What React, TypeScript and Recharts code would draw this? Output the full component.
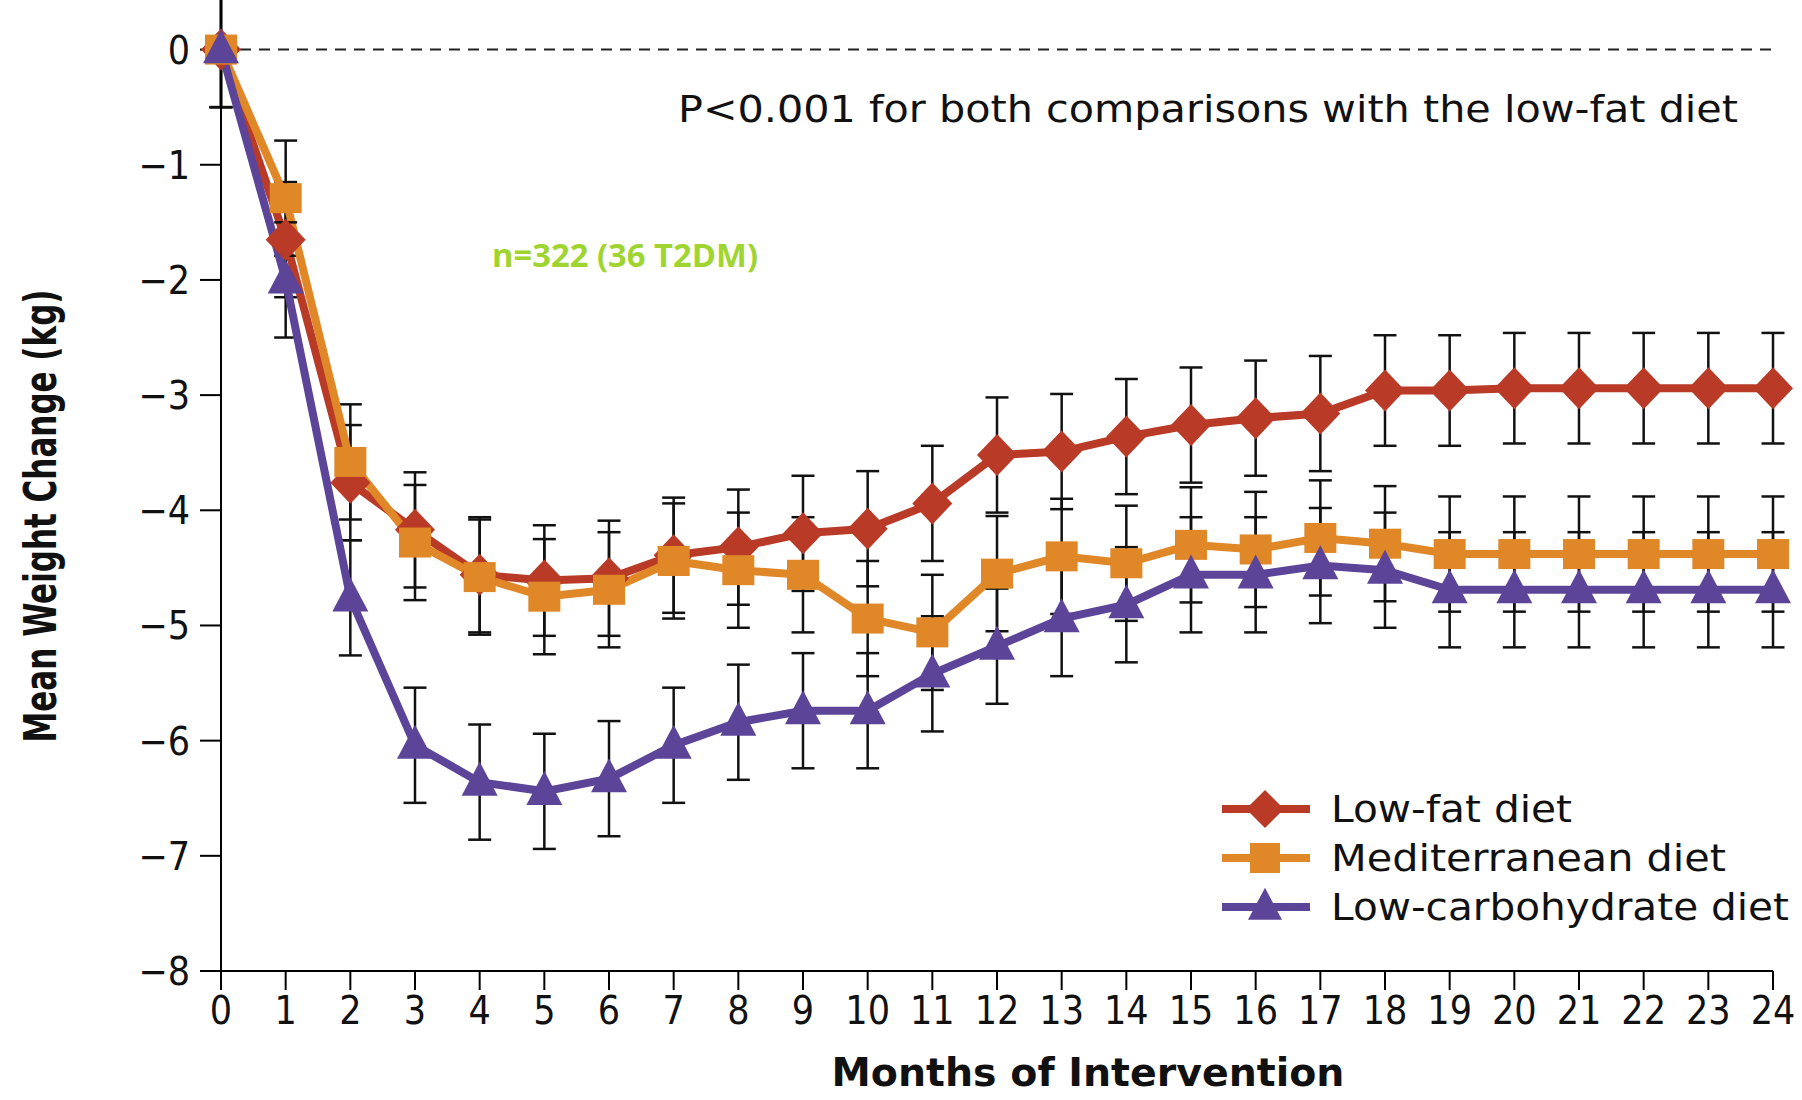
import React from 'react';
import { LineChart, Line, XAxis, YAxis, ErrorBar, ReferenceLine } from 'recharts';

const months = [0, 1, 2, 3, 4, 5, 6, 7, 8, 9, 10, 11, 12, 13, 14, 15, 16, 17, 18, 19, 20, 21, 22, 23, 24];
const yTicks = [-8, -7, -6, -5, -4, -3, -2, -1, 0];

const lowFat = [0, -1.65, -3.76, -4.17, -4.56, -4.61, -4.59, -4.39, -4.32, -4.2, -4.16, -3.94, -3.52, -3.49, -3.36, -3.26, -3.2, -3.16, -2.96, -2.96, -2.94, -2.94, -2.94, -2.94, -2.94];
const lowFatErr = [0.5, 0.5, 0.5, 0.5, 0.5, 0.48, 0.5, 0.5, 0.5, 0.5, 0.5, 0.5, 0.5, 0.5, 0.5, 0.5, 0.5, 0.5, 0.48, 0.48, 0.48, 0.48, 0.48, 0.48, 0.48];
const mediterranean = [0, -1.29, -3.58, -4.28, -4.58, -4.75, -4.69, -4.44, -4.52, -4.56, -4.94, -5.06, -4.55, -4.4, -4.46, -4.3, -4.34, -4.24, -4.29, -4.38, -4.38, -4.38, -4.38, -4.38, -4.38];
const mediterraneanErr = [0.5, 0.5, 0.5, 0.5, 0.5, 0.5, 0.5, 0.5, 0.5, 0.5, 0.5, 0.5, 0.5, 0.5, 0.5, 0.5, 0.5, 0.5, 0.5, 0.5, 0.5, 0.5, 0.5, 0.5, 0.5];
const lowCarb = [0, -2.0, -4.76, -6.04, -6.36, -6.44, -6.33, -6.04, -5.84, -5.74, -5.74, -5.42, -5.18, -4.94, -4.82, -4.56, -4.56, -4.48, -4.52, -4.69, -4.69, -4.69, -4.69, -4.69, -4.69];
const lowCarbErr = [0.5, 0.5, 0.5, 0.5, 0.5, 0.5, 0.5, 0.5, 0.5, 0.5, 0.5, 0.5, 0.5, 0.5, 0.5, 0.5, 0.5, 0.5, 0.5, 0.5, 0.5, 0.5, 0.5, 0.5, 0.5];

const seriesNames = ['Low-fat diet', 'Mediterranean diet', 'Low-carbohydrate diet'];
const pText = 'P<0.001 for both comparisons with the low-fat diet';
const nText = 'n=322 (36 T2DM)';
const xTitle = 'Months of Intervention';
const yTitle = 'Mean Weight Change (kg)';

const RED = '#B93A26';
const ORANGE = '#E08727';
const PURPLE = '#5C4499';
const GREEN = '#A0D531';

const data = months.map((m, i) => ({
  month: m,
  lowFat: lowFat[i],
  lowFatErr: lowFatErr[i],
  med: mediterranean[i],
  medErr: mediterraneanErr[i],
  lowCarb: lowCarb[i],
  lowCarbErr: lowCarbErr[i],
}));

const TICK_FONT = "'Liberation Sans Narrow', 'DejaVu Sans Condensed', 'Liberation Sans', sans-serif";
const TEXT_FONT = "'DejaVu Sans', 'Liberation Sans', sans-serif";

const diamondPath = (cx: number, cy: number, w: number, h: number) =>
  `M${cx},${cy - h} L${cx + w},${cy} L${cx},${cy + h} L${cx - w},${cy} Z`;
const trianglePath = (cx: number, cy: number, w: number, h: number) =>
  `M${cx},${cy - h * 0.6} L${cx + w},${cy + h * 0.4} L${cx - w},${cy + h * 0.4} Z`;

const DiamondDot = (props: any) => {
  const { cx, cy, index } = props;
  if (cx == null || cy == null) return <g key={`dd-${index}`} />;
  return <path key={`dd-${index}`} d={diamondPath(cx, cy, 20, 21)} fill={RED} />;
};
const SquareDot = (props: any) => {
  const { cx, cy, index } = props;
  if (cx == null || cy == null) return <g key={`sd-${index}`} />;
  return <rect key={`sd-${index}`} x={cx - 16} y={cy - 15} width={32} height={30} fill={ORANGE} />;
};
const TriangleDot = (props: any) => {
  const { cx, cy, index } = props;
  if (cx == null || cy == null) return <g key={`td-${index}`} />;
  return <path key={`td-${index}`} d={trianglePath(cx, cy, 18, 34)} fill={PURPLE} />;
};

const XTick = (props: any) => {
  const { x, y, payload } = props;
  return (
    <text x={x} y={y} dy={28} textAnchor="middle" fontSize={39} fontFamily={TICK_FONT} fill="#111">
      {payload.value}
    </text>
  );
};
const YTick = (props: any) => {
  const { x, y, payload } = props;
  const v = payload.value;
  const label = v < 0 ? `\u2212${Math.abs(v)}` : `${v}`;
  return (
    <text x={x} y={y} dy={14} textAnchor="end" fontSize={39} fontFamily={TICK_FONT} fill="#111">
      {label}
    </text>
  );
};

export default function App() {
  return (
    <div style={{ position: 'absolute', left: 0, top: 0, width: 1802, height: 1100, overflow: 'hidden', background: '#fff' }}>
      <div style={{ position: 'absolute', left: 0, top: -8 }}>
        <LineChart width={1802} height={1108} data={data} margin={{ top: 0, right: 29, bottom: 0, left: 0 }}>
          <XAxis
            dataKey="month"
            type="number"
            domain={[0, 24]}
            ticks={months}
            interval={0}
            height={129}
            tickSize={19}
            tickMargin={6}
            axisLine={{ stroke: '#000', strokeWidth: 2 }}
            tickLine={{ stroke: '#000', strokeWidth: 2 }}
            tick={<XTick />}
          />
          <YAxis
            type="number"
            domain={[-8, 0.5]}
            ticks={yTicks}
            interval={0}
            width={221}
            tickSize={21}
            tickMargin={10}
            axisLine={{ stroke: '#000', strokeWidth: 2 }}
            tickLine={{ stroke: '#000', strokeWidth: 2 }}
            tick={<YTick />}
          />
          <ReferenceLine y={0} stroke="#222" strokeWidth={2} strokeDasharray="11 8" />
          <Line
            dataKey="lowFat"
            type="linear"
            stroke={RED}
            strokeWidth={8}
            dot={DiamondDot}
            activeDot={false}
            isAnimationActive={false}
          >
            <ErrorBar dataKey="lowFatErr" direction="y" width={11.5} strokeWidth={2.5} stroke="#111" />
          </Line>
          <Line
            dataKey="med"
            type="linear"
            stroke={ORANGE}
            strokeWidth={8}
            dot={SquareDot}
            activeDot={false}
            isAnimationActive={false}
          >
            <ErrorBar dataKey="medErr" direction="y" width={11.5} strokeWidth={2.5} stroke="#111" />
          </Line>
          <Line
            dataKey="lowCarb"
            type="linear"
            stroke={PURPLE}
            strokeWidth={8}
            dot={TriangleDot}
            activeDot={false}
            isAnimationActive={false}
          >
            <ErrorBar dataKey="lowCarbErr" direction="y" width={11.5} strokeWidth={2.5} stroke="#111" />
          </Line>
        </LineChart>
      </div>
      <svg width={1802} height={1100} style={{ position: 'absolute', left: 0, top: 0, pointerEvents: 'none' }}>
        <text
          x={0}
          y={0}
          transform="translate(40,516) rotate(-90)"
          textAnchor="middle"
          dominantBaseline="central"
          fontSize={44}
          fontWeight="bold"
          fontFamily={TICK_FONT}
          textLength={453}
          lengthAdjust="spacingAndGlyphs"
          fill="#111"
        >
          {yTitle}
        </text>
        <text
          x={1088}
          y={1086}
          textAnchor="middle"
          fontSize={39}
          fontWeight="bold"
          fontFamily={TICK_FONT}
          textLength={513}
          lengthAdjust="spacingAndGlyphs"
          fill="#111"
        >
          {xTitle}
        </text>
        <text
          x={678}
          y={109}
          dominantBaseline="central"
          fontSize={38}
          fontFamily={TEXT_FONT}
          textLength={1060}
          lengthAdjust="spacingAndGlyphs"
          fill="#111"
        >
          {pText}
        </text>
        <text
          x={492}
          y={254}
          dominantBaseline="central"
          fontSize={32}
          fontWeight="bold"
          fontFamily="'Open Sans', 'Liberation Sans', sans-serif"
          textLength={266}
          lengthAdjust="spacingAndGlyphs"
          fill={GREEN}
        >
          {nText}
        </text>
        {/* Legend */}
        <g>
          <line x1={1222} x2={1310} y1={809} y2={809} stroke={RED} strokeWidth={8} />
          <path d={diamondPath(1265, 809, 19, 19)} fill={RED} />
          <text x={1331} y={809} dominantBaseline="central" fontSize={38} fontFamily={TEXT_FONT} textLength={241} lengthAdjust="spacingAndGlyphs" fill="#111">
            {seriesNames[0]}
          </text>
          <line x1={1222} x2={1310} y1={858} y2={858} stroke={ORANGE} strokeWidth={8} />
          <rect x={1250} y={843} width={30} height={30} fill={ORANGE} />
          <text x={1331} y={858} dominantBaseline="central" fontSize={38} fontFamily={TEXT_FONT} textLength={395} lengthAdjust="spacingAndGlyphs" fill="#111">
            {seriesNames[1]}
          </text>
          <line x1={1222} x2={1310} y1={907} y2={907} stroke={PURPLE} strokeWidth={8} />
          <path d={trianglePath(1265, 907, 17, 32)} fill={PURPLE} />
          <text x={1331} y={907} dominantBaseline="central" fontSize={38} fontFamily={TEXT_FONT} textLength={458} lengthAdjust="spacingAndGlyphs" fill="#111">
            {seriesNames[2]}
          </text>
        </g>
      </svg>
    </div>
  );
}
